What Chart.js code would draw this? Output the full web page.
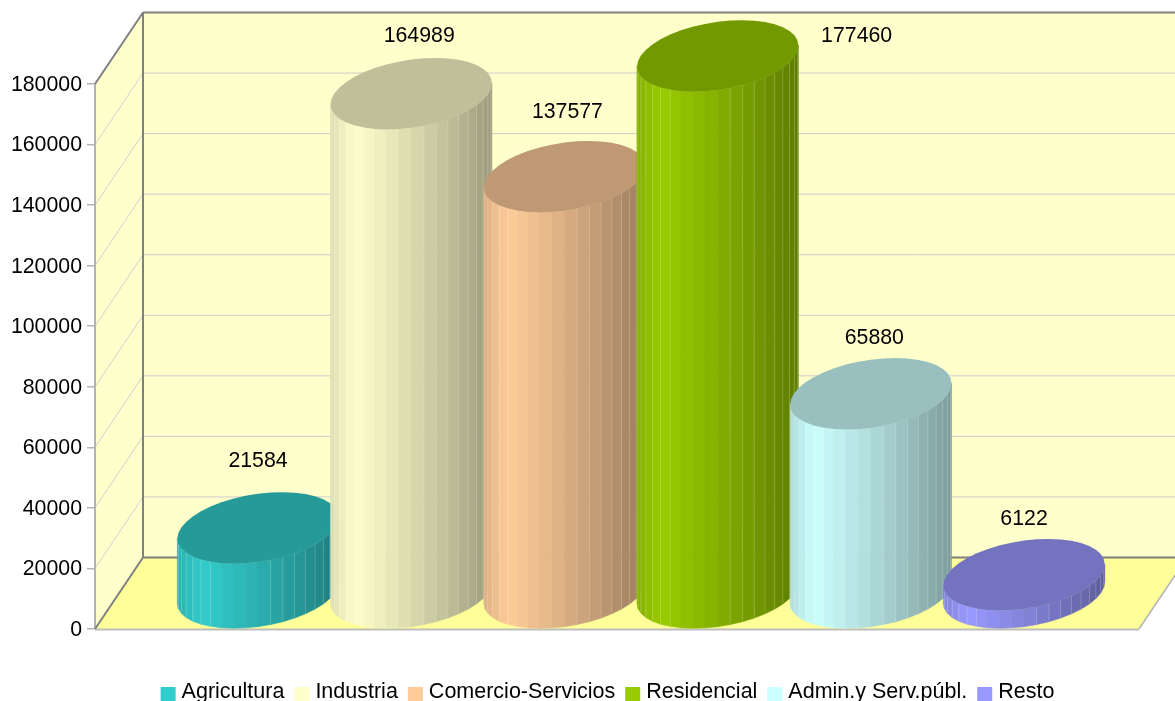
<!DOCTYPE html>
<html>
<head>
<meta charset="utf-8">
<title>Consumo por sectores</title>
<script src="https://cdn.jsdelivr.net/npm/chart.js@4/dist/chart.umd.js"></script>
<style>
  html, body { margin: 0; padding: 0; background: #fff; overflow: hidden; }
  canvas { display: block; }
</style>
</head>
<body>
<canvas id="chart" width="1175" height="701"></canvas>
<script>
const categories = ['Agricultura', 'Industria', 'Comercio-Servicios', 'Residencial', 'Admin.y Serv.públ.', 'Resto'];
const values = [21584, 164989, 137577, 177460, 65880, 6122];
const colors = ['#33cccc', '#ffffcc', '#ffcc99', '#99cc00', '#ccffff', '#9999ff'];

// the value labels sit by hand in the original, so they are nudged per bar
const labelDx = [24, 32, 27, 163, 27.5, 24];
const labelDy = [-103, -93, -100, -56, -91, -91.5];

const FONT = '"Liberation Sans", Arial, sans-serif';
const depth = { x: 48, y: -71.5 };
const FACETS = 40;

function shade(hex, f) {
  const n = parseInt(hex.slice(1), 16);
  const c = [n >> 16, (n >> 8) & 255, n & 255].map(v => Math.round(Math.min(255, v * f)));
  return `rgb(${c[0]},${c[1]},${c[2]})`;
}

// brightness over the width of the cylinder, 0 = left edge, 1 = right edge
function sideFactor(u) {
  if (u < 0.15) return 0.86 + (u / 0.15) * 0.14;
  if (u < 0.5) return 1 - ((u - 0.15) / 0.35) * 0.14;
  return 0.86 - ((u - 0.5) / 0.5) * 0.25;
}

// replace the flat bar by a cylinder standing on the same base and value
Chart.BarElement.prototype.draw = function (ctx) {
  const { x, y, base, width } = this.getProps(['x', 'y', 'base', 'width']);
  const color = this.options.backgroundColor;
  const a = width / 2;
  const cx = x + depth.x / 2;
  const topY = y + depth.y / 2;
  const baseY = base + depth.y / 2;
  const point = (t, cy) => [cx + a * Math.cos(t) + (depth.x / 2) * Math.sin(t), cy + (depth.y / 2) * Math.sin(t)];
  const start = Math.atan2(depth.x / 2, a) + Math.PI;
  const step = (2 * Math.PI) / FACETS;
  const halfW = Math.hypot(a, depth.x / 2);

  ctx.save();
  for (let i = 0; i < FACETS / 2; i++) {
    const t0 = start + i * step;
    const t1 = t0 + step;
    const p0 = point(t0, topY), p1 = point(t1, topY), q1 = point(t1, baseY), q0 = point(t0, baseY);
    const u = ((p0[0] + p1[0]) / 2 - (cx - halfW)) / (2 * halfW);
    const fill = shade(color, sideFactor(u));
    ctx.beginPath();
    ctx.moveTo(p0[0], p0[1]);
    ctx.lineTo(p1[0], p1[1]);
    ctx.lineTo(q1[0], q1[1]);
    ctx.lineTo(q0[0], q0[1]);
    ctx.closePath();
    ctx.fillStyle = fill;
    ctx.strokeStyle = fill;
    ctx.lineWidth = 0.6;
    ctx.fill();
    ctx.stroke();
    if (i > 0 && (u < 0.3 || u > 0.55)) {
      ctx.beginPath();
      ctx.moveTo(p0[0], p0[1]);
      ctx.lineTo(q0[0], q0[1]);
      ctx.strokeStyle = 'rgba(255,255,255,0.2)';
      ctx.lineWidth = 1;
      ctx.stroke();
    }
  }
  ctx.beginPath();
  for (let i = 0; i < FACETS; i++) {
    const p = point(start + i * step, topY);
    if (i === 0) ctx.moveTo(p[0], p[1]);
    else ctx.lineTo(p[0], p[1]);
  }
  ctx.closePath();
  ctx.fillStyle = shade(color, 0.75);
  ctx.fill();
  ctx.restore();
};

const walls = {
  id: 'walls',
  beforeDatasetsDraw(chart) {
    const { ctx, chartArea: { left, right, top, bottom }, scales: { y } } = chart;
    const line = (x0, y0, x1, y1, color, w) => {
      ctx.beginPath();
      ctx.moveTo(x0, y0);
      ctx.lineTo(x1, y1);
      ctx.strokeStyle = color;
      ctx.lineWidth = w;
      ctx.stroke();
    };
    const dx = depth.x, dy = depth.y;
    ctx.save();
    // back wall
    ctx.fillStyle = '#ffffcc';
    ctx.fillRect(left + dx, top + dy, right - left, bottom - top);
    // side wall
    ctx.beginPath();
    ctx.moveTo(left, top);
    ctx.lineTo(left + dx, top + dy);
    ctx.lineTo(left + dx, bottom + dy);
    ctx.lineTo(left, bottom);
    ctx.closePath();
    ctx.fill();
    // floor
    ctx.fillStyle = '#ffff99';
    ctx.beginPath();
    ctx.moveTo(left, bottom);
    ctx.lineTo(left + dx, bottom + dy);
    ctx.lineTo(right + dx, bottom + dy);
    ctx.lineTo(right, bottom);
    ctx.closePath();
    ctx.fill();
    // grid over both walls
    y.ticks.forEach(t => {
      const py = y.getPixelForValue(t.value);
      if (t.value > 0 && t.value < y.max) {
        line(left + dx, py + dy, right + dx, py + dy, '#cccccc', 1);
        line(left, py, left + dx, py + dy, '#d2d2d2', 1);
      }
    });
    // frame
    line(left, top, left, bottom, '#b3b3b3', 2);
    line(left, bottom + 0.5, right, bottom + 0.5, '#bdbdbd', 2);
    line(right, bottom, right + dx, bottom + dy, '#b3b3b3', 1.5);
    line(left, top, left + dx, top + dy, '#808080', 2);
    line(left, bottom, left + dx, bottom + dy, '#808080', 2);
    line(left + dx, top + dy, left + dx, bottom + dy, '#808080', 2);
    line(left + dx, top + dy, right + dx, top + dy, '#808080', 2);
    line(left + dx, bottom + dy, right + dx, bottom + dy, '#808080', 2);
    ctx.restore();
  }
};

const valueLabels = {
  id: 'valueLabels',
  afterDatasetsDraw(chart) {
    const { ctx } = chart;
    const bars = chart.getDatasetMeta(0).data;
    ctx.save();
    ctx.font = '21.3px ' + FONT;
    ctx.fillStyle = '#000';
    ctx.textAlign = 'center';
    ctx.textBaseline = 'middle';
    bars.forEach((bar, i) => {
      ctx.fillText(String(values[i]), bar.x + labelDx[i], bar.y + labelDy[i]);
    });
    ctx.restore();
  }
};

// legend row: the built-in one cannot put the text this close to the box
const legendRow = {
  id: 'legendRow',
  afterDraw(chart) {
    const { ctx } = chart;
    const box = 15, gap = 6, spacing = 10, centerX = 607.5, textY = 698;
    ctx.save();
    ctx.font = '21.5px ' + FONT;
    ctx.textBaseline = 'alphabetic';
    ctx.textAlign = 'left';
    const widths = categories.map(c => ctx.measureText(c).width);
    const total = widths.reduce((s, w) => s + w + box + gap, 0) + spacing * (categories.length - 1);
    let x = centerX - total / 2;
    categories.forEach((c, i) => {
      ctx.fillStyle = colors[i];
      ctx.fillRect(x, 687, box, 15);
      ctx.fillStyle = '#000';
      ctx.fillText(c, x + box + gap, textY);
      x += box + gap + widths[i] + spacing;
    });
    ctx.restore();
  }
};

new Chart(document.getElementById('chart').getContext('2d'), {
  type: 'bar',
  data: {
    datasets: [{
      label: 'Consumo',
      data: values.map((v, i) => ({ x: i, y: v })),
      backgroundColor: colors,
      barThickness: 154,
      clip: false
    }]
  },
  plugins: [walls, valueLabels, legendRow],
  options: {
    responsive: false,
    animation: false,
    layout: { padding: { left: 0, right: 36, top: 84, bottom: 72 } },
    plugins: {
      legend: { display: false },
      tooltip: { enabled: false }
    },
    scales: {
      x: { type: 'linear', display: false, offset: false, min: -0.9073, max: 5.907 },
      y: {
        min: 0,
        max: 180000,
        afterFit(scale) { scale.width = 95; },
        border: { display: false },
        grid: { drawOnChartArea: false, drawTicks: true, tickLength: 8, color: '#b3b3b3', lineWidth: 1.5 },
        ticks: {
          stepSize: 20000,
          padding: 5,
          labelOffset: 1,
          color: '#000',
          font: { family: FONT, size: 21.3 },
          callback: v => String(v)
        }
      }
    }
  }
});
</script>
</body>
</html>
